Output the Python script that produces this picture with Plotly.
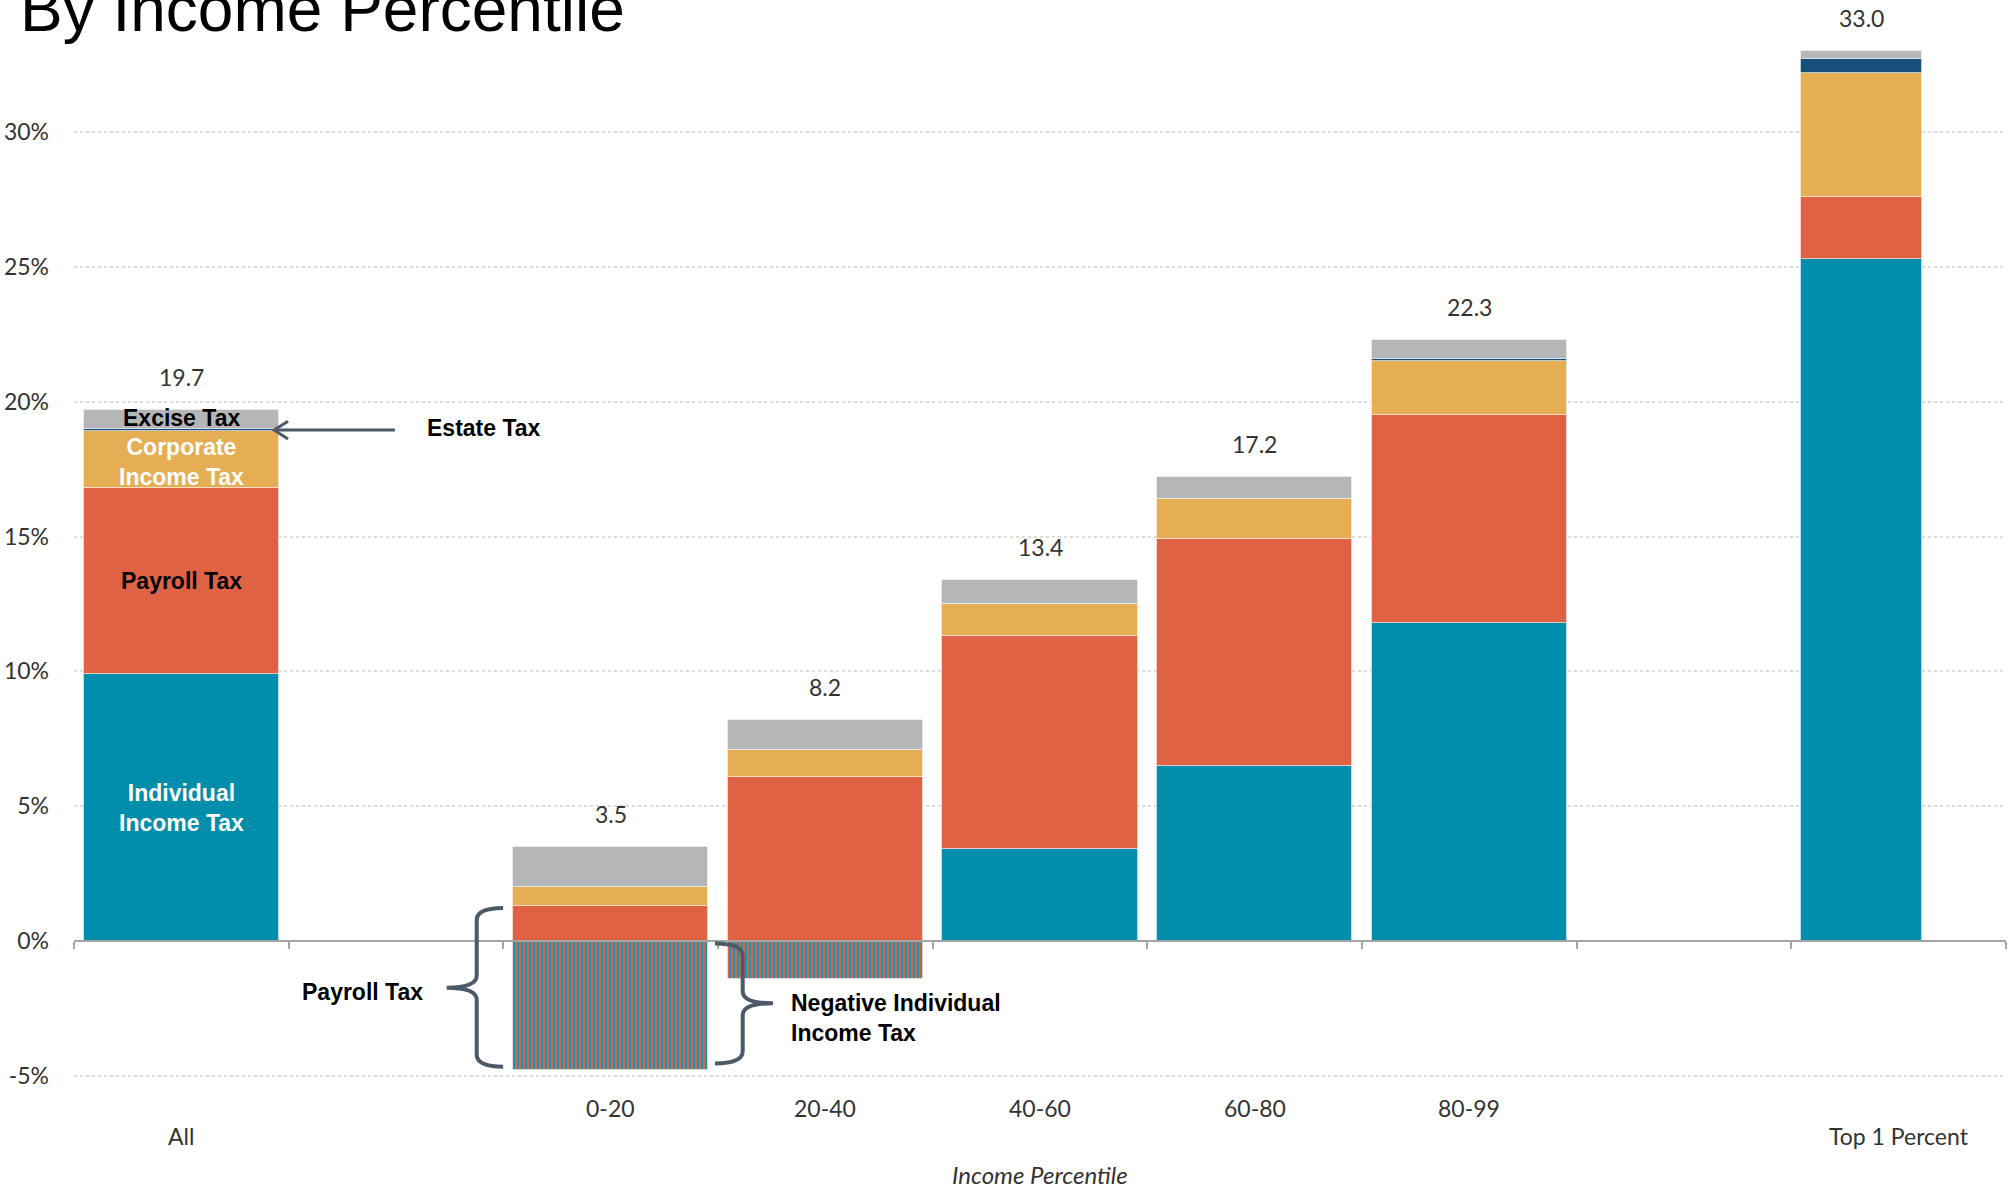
import plotly.graph_objects as go

# Average federal tax rates by income group, split by tax source (percent of income)
categories = ["All", "0-20", "20-40", "40-60", "60-80", "80-99", "Top 1 Percent"]
slots = [0, 2, 3, 4, 5, 6, 8]          # category positions on the x axis (gaps at 1 and 7)
individual = [9.9, -4.8, -1.4, 3.4, 6.5, 11.8, 25.3]
payroll = [6.9, 1.3, 6.1, 7.9, 8.4, 7.7, 2.3]
corporate = [2.1, 0.7, 1.0, 1.2, 1.5, 2.0, 4.6]
estate = [0.1, 0.0, 0.0, 0.0, 0.0, 0.1, 0.5]
excise = [0.7, 1.5, 1.1, 0.9, 0.8, 0.7, 0.3]
y_ticks = [-5, 0, 5, 10, 15, 20, 25, 30]

TEAL = "#008EAC"
RED = "#E06245"
GOLD = "#E5AE54"
NAVY = "#164F7A"
GREY = "#B5B6B8"
INK = "#4B5A66"
TEXT = "#333333"

widths = [0.91] * 6 + [0.564]
offset = -0.455

fig = go.Figure()

series = [
    ("Individual Income Tax", individual, TEAL),
    ("Payroll Tax", payroll, RED),
    ("Corporate Income Tax", corporate, GOLD),
    ("Estate Tax", estate, NAVY),
    ("Excise Tax", excise, GREY),
]
for name, vals, col in series:
    marker = dict(color=col, line=dict(color="rgba(255,255,255,0.45)", width=1))
    if name == "Individual Income Tax":
        # negative individual income tax is drawn with payroll/individual stripes
        marker["pattern"] = dict(
            shape=["" if v >= 0 else "|" for v in vals],
            fgcolor=RED, bgcolor="#0A9BBB", size=4, solidity=0.5,
            fillmode="replace",
        )
    fig.add_trace(go.Bar(
        x=slots, y=vals, name=name, width=widths, offset=offset,
        marker=marker, showlegend=False, hoverinfo="skip",
    ))

annotations = []
shapes = []

# total rate above each bar
for s, w, vals in zip(slots, widths, zip(individual, payroll, corporate, estate, excise)):
    top = sum(v for v in vals if v > 0)
    annotations.append(dict(
        x=s + offset + w / 2, y=top, xref="x", yref="y", text=f"{top:.1f}",
        showarrow=False, yanchor="middle", yshift=33,
        font=dict(family="Lato", size=23, color=TEXT),
    ))

# category labels under the axis (two rows)
for s, c in zip(slots, categories):
    row_y = -0.042 if c in ("All", "Top 1 Percent") else -0.0159
    annotations.append(dict(
        x=s, y=row_y, xref="x", yref="paper", text=c, showarrow=False,
        yanchor="middle", font=dict(family="Lato", size=23, color=TEXT),
    ))
annotations.append(dict(
    x=0.5, y=-0.0784, xref="paper", yref="paper", text="<i>Income Percentile</i>",
    showarrow=False, yanchor="middle", font=dict(family="Lato", size=24, color=TEXT),
))

# segment labels inside the "All" bar
bold = dict(family="Liberation Sans", size=23)
c1 = individual[0]
c2 = c1 + payroll[0]
c3 = c2 + corporate[0]
c4 = c3 + estate[0]
c5 = c4 + excise[0]
for txt, yv, col in [
    ("<b>Individual<br>Income Tax</b>", c1 / 2, "white"),
    ("<b>Payroll Tax</b>", (c1 + c2) / 2, "black"),
    ("<b>Corporate<br>Income Tax</b>", (c2 + c3) / 2 - 0.08, "white"),
    ("<b>Excise Tax</b>", (c4 + c5) / 2 + 0.05, "black"),
]:
    annotations.append(dict(
        x=0, y=yv, xref="x", yref="y", text=txt, showarrow=False,
        font=dict(color=col, **bold),
    ))

# estate tax callout with arrow
estate_y = (c3 + c4) / 2
annotations.append(dict(
    x=1.133, y=estate_y + 0.08, xref="x", yref="y", text="<b>Estate Tax</b>",
    showarrow=False, xanchor="left", font=dict(color="black", **bold),
))
tip_x = 0.432
shapes.append(dict(type="line", xref="x", yref="y", x0=0.995, x1=tip_x + 0.005,
                   y0=estate_y, y1=estate_y, line=dict(color=INK, width=3)))
shapes.append(dict(type="path", xref="x", yref="y",
                   path=f"M {tip_x + 0.065},{estate_y + 0.33} L {tip_x},{estate_y} "
                        f"L {tip_x + 0.065},{estate_y - 0.33}",
                   line=dict(color=INK, width=3)))


def brace(x_end, x_spine, x_tip, y_top, y_mid, y_bot, ry=0.45):
    return (f"M {x_end},{y_top} Q {x_spine},{y_top} {x_spine},{y_top - ry} "
            f"L {x_spine},{y_mid + ry} Q {x_spine},{y_mid} {x_tip},{y_mid} "
            f"Q {x_spine},{y_mid} {x_spine},{y_mid - ry} "
            f"L {x_spine},{y_bot + ry} Q {x_spine},{y_bot} {x_end},{y_bot}")


# "{" payroll tax bracket and "}" negative income tax bracket
shapes.append(dict(type="path", xref="x", yref="y",
                   path=brace(1.499, 1.376, 1.236, 1.22, -1.73, -4.66),
                   line=dict(color=INK, width=4)))
shapes.append(dict(type="path", xref="x", yref="y",
                   path=brace(2.486, 2.615, 2.756, -0.09, -2.31, -4.54),
                   line=dict(color=INK, width=4)))
annotations.append(dict(
    x=0.844, y=-1.88, xref="x", yref="y", text="<b>Payroll Tax</b>",
    showarrow=False, font=dict(color="black", **bold),
))
annotations.append(dict(
    x=2.829, y=-2.86, xref="x", yref="y",
    text="<b>Negative Individual<br>Income Tax</b>", showarrow=False,
    xanchor="left", align="left", font=dict(color="black", **bold),
))

# title (runs off the top edge of the page)
annotations.append(dict(
    x=-0.029, y=0.9749, xref="paper", yref="paper", text="By Income Percentile",
    showarrow=False, xanchor="left", yanchor="bottom",
    font=dict(family="Liberation Sans", size=64, color="black"),
))

fig.update_layout(
    width=2011, height=1191,
    margin=dict(l=74, r=5, t=20, b=100),
    barmode="relative", bargap=0,
    plot_bgcolor="white", paper_bgcolor="white",
    annotations=annotations, shapes=shapes,
    xaxis=dict(
        range=[-0.5, 8.5], anchor="free", position=0.140056,
        showgrid=False, zeroline=False, showline=True, linecolor="#A5A5A5",
        linewidth=2, ticks="outside", ticklen=7, tickwidth=2, tickcolor="#A5A5A5",
        tickvals=[i - 0.5 for i in range(10)], showticklabels=False,
    ),
    yaxis=dict(
        range=[-5.564, 34.162], tickvals=y_ticks,
        ticktext=[f"{t}%" for t in y_ticks],
        showgrid=True, gridcolor="#DCDCDC", griddash="dot", gridwidth=1.5,
        zeroline=False, showline=False, ticks="", ticklabelstandoff=24,
        tickfont=dict(family="Lato", size=23, color=TEXT),
    ),
)

fig.write_html("out.html")
